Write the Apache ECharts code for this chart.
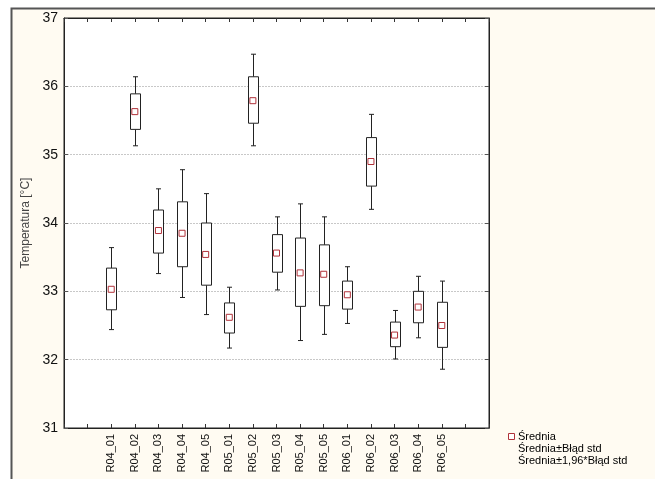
<!DOCTYPE html>
<html>
<head>
<meta charset="utf-8">
<script src="https://cdn.jsdelivr.net/npm/echarts@6/dist/echarts.min.js"></script>
<style>
  html, body { margin: 0; padding: 0; background: #fff; }
  #chart { width: 655px; height: 479px; }
</style>
</head>
<body>
<div id="chart"></div>
<script>
// kategorie (grupy pomiarowe)
const groups = ['R04_01', 'R04_02', 'R04_03', 'R04_04', 'R04_05',
  'R05_01', 'R05_02', 'R05_03', 'R05_04', 'R05_05',
  'R06_01', 'R06_02', 'R06_03', 'R06_04', 'R06_05']

// średnia
const means = [33.03, 35.63, 33.89, 33.85, 33.54, 32.62, 35.79, 33.56, 33.27, 33.25, 32.95, 34.90, 32.36, 32.77, 32.50]
// średnia ± błąd std
const stdLow = [32.73, 35.37, 33.56, 33.36, 33.09, 32.39, 35.46, 33.28, 32.78, 32.79, 32.74, 34.54, 32.19, 32.54, 32.18]
const stdHigh = [33.34, 35.89, 34.19, 34.31, 34.00, 32.83, 36.14, 33.83, 33.78, 33.68, 33.15, 35.25, 32.55, 33.00, 32.84]
// średnia ± 1,96 * błąd std
const ciLow = [32.44, 35.13, 33.26, 32.91, 32.66, 32.17, 35.13, 33.02, 32.28, 32.37, 32.53, 34.20, 32.01, 32.32, 31.86]
const ciHigh = [33.64, 36.14, 34.50, 34.78, 34.43, 33.06, 36.47, 34.09, 34.28, 34.09, 33.36, 35.59, 32.72, 33.22, 33.15]

// puste miejsca po bokach osi
const axisCats = ['', ''].concat(groups, ['', ''])

const yTicks = { min: 31, max: 37, interval: 1 }

const fontFamily = '"Liberation Sans", Arial, sans-serif'
const lineColor = '#222'
const meanColor = '#b0323a'

const chart = echarts.init(document.getElementById('chart'))

function renderBox(params, api) {
  const x = api.value(0)
  const lo96 = api.coord([x, api.value(1)])
  const lo = api.coord([x, api.value(2)])
  const hi = api.coord([x, api.value(4)])
  const hi96 = api.coord([x, api.value(5)])
  const cx = Math.round(lo[0]) + 0.5
  const bw = 10
  const cw = 5
  const style = { stroke: lineColor, lineWidth: 1, fill: null }
  return {
    type: 'group',
    children: [
      { type: 'line', shape: { x1: cx, y1: hi96[1], x2: cx, y2: hi[1] }, style },
      { type: 'line', shape: { x1: cx, y1: lo[1], x2: cx, y2: lo96[1] }, style },
      { type: 'line', shape: { x1: cx - cw / 2, y1: hi96[1], x2: cx + cw / 2, y2: hi96[1] }, style },
      { type: 'line', shape: { x1: cx - cw / 2, y1: lo96[1], x2: cx + cw / 2, y2: lo96[1] }, style },
      {
        type: 'rect',
        shape: { x: cx - bw / 2, y: hi[1], width: bw, height: lo[1] - hi[1] },
        style: { stroke: lineColor, lineWidth: 1, fill: '#fff' }
      }
    ]
  }
}

const boxData = groups.map((g, i) => [g, ciLow[i], stdLow[i], means[i], stdHigh[i], ciHigh[i]])

const option = {
  backgroundColor: '#fff',
  animation: false,
  textStyle: { fontFamily },
  graphic: [
    {
      type: 'rect',
      z: -10,
      shape: { x: 11.5, y: 8.5, width: 700, height: 500 },
      style: { fill: '#fffbf2', stroke: '#555', lineWidth: 2 }
    },
    {
      type: 'group',
      left: 508,
      top: 431,
      children: [
        { type: 'rect', shape: { x: 0.5, y: 2.5, width: 6, height: 6 }, style: { fill: '#fff', stroke: meanColor, lineWidth: 1 } },
        { type: 'text', x: 10, y: 0, style: { text: 'Średnia', font: '11px ' + fontFamily, fill: '#000' } },
        { type: 'text', x: 10, y: 12, style: { text: 'Średnia±Błąd std', font: '11px ' + fontFamily, fill: '#000' } },
        { type: 'text', x: 10, y: 24, style: { text: 'Średnia±1,96*Błąd std', font: '11px ' + fontFamily, fill: '#000' } }
      ]
    }
  ],
  grid: {
    left: 64,
    top: 18,
    right: 166,
    bottom: 51,
    show: true,
    backgroundColor: '#fff',
    borderColor: '#222',
    borderWidth: 1
  },
  xAxis: [
    {
      type: 'category',
      data: axisCats,
      boundaryGap: false,
      axisLine: { lineStyle: { color: '#222' } },
      axisTick: { inside: true, length: 4, interval: 0, lineStyle: { color: '#333' } },
      axisLabel: { interval: 0, rotate: 90, fontSize: 11, color: '#111', margin: 6 },
      splitLine: { show: false }
    },
    {
      type: 'category',
      data: axisCats,
      position: 'top',
      boundaryGap: false,
      axisLine: { lineStyle: { color: '#222' } },
      axisTick: { inside: true, length: 4, interval: 0, lineStyle: { color: '#333' } },
      axisLabel: { show: false },
      splitLine: { show: false }
    }
  ],
  yAxis: [
    {
      type: 'value',
      min: yTicks.min,
      max: yTicks.max,
      interval: yTicks.interval,
      name: 'Temperatura [°C]',
      nameLocation: 'middle',
      nameGap: 29,
      nameTextStyle: { fontSize: 12, color: '#444' },
      axisLine: { show: true, lineStyle: { color: '#222' } },
      axisTick: { show: true, inside: true, length: 4, lineStyle: { color: '#555' } },
      axisLabel: { fontSize: 14, color: '#111', margin: 6 },
      splitLine: { show: true, lineStyle: { color: '#c8c8c8', type: [2, 1] } }
    },
    {
      type: 'value',
      min: yTicks.min,
      max: yTicks.max,
      interval: yTicks.interval,
      position: 'right',
      axisLine: { show: true, lineStyle: { color: '#222' } },
      axisTick: { show: true, inside: true, length: 4, lineStyle: { color: '#555' } },
      axisLabel: { show: false },
      splitLine: { show: false }
    }
  ],
  series: [
    {
      name: 'Średnia±1,96*Błąd std',
      type: 'custom',
      renderItem: renderBox,
      encode: { x: 0, y: [1, 2, 4, 5] },
      data: boxData,
      z: 2
    },
    {
      name: 'Średnia',
      type: 'scatter',
      symbol: 'rect',
      symbolSize: 6,
      itemStyle: { color: '#fff', borderColor: meanColor, borderWidth: 1, opacity: 1 },
      data: groups.map((g, i) => [g, means[i]]),
      z: 3
    }
  ]
}

chart.setOption(option)
</script>
</body>
</html>
